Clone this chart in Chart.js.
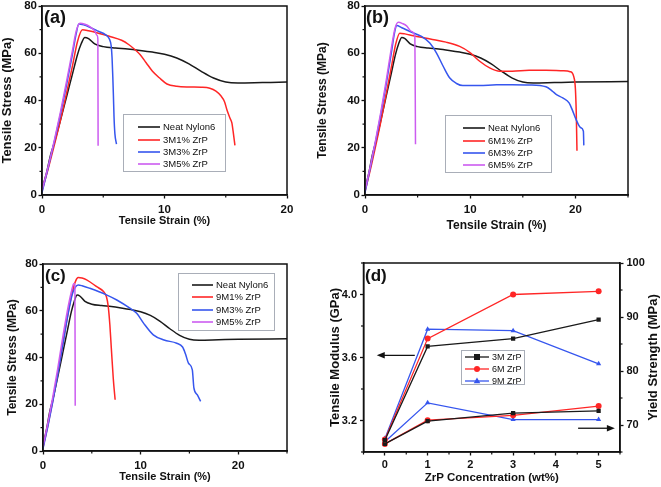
<!DOCTYPE html>
<html><head><meta charset="utf-8">
<script src="https://cdn.jsdelivr.net/npm/chart.js@4.4.1/dist/chart.umd.min.js"></script>
<style>
html,body{margin:0;padding:0;background:#fff;}
#wrap{position:relative;width:661px;height:487px;overflow:hidden;background:#fff;}
canvas{position:absolute;left:0;top:0;}
</style></head><body>
<div id="wrap">
<canvas id="ca" width="661" height="487" style="width:661px;height:487px"></canvas>
<canvas id="cb" width="661" height="487" style="width:661px;height:487px"></canvas>
<canvas id="cc" width="661" height="487" style="width:661px;height:487px"></canvas>
<canvas id="cd" width="661" height="487" style="width:661px;height:487px"></canvas>
</div>
<script>
// ---------------- DATA ----------------
// Neat Nylon6 (same curve in panels a, b, c)
const neatStrain = [0, 0.35, 0.7, 1.0, 1.5, 2.0, 2.5, 2.9, 3.2, 3.5, 3.8, 4.3, 5.0, 6.0, 7.0, 8.0, 9.0, 10.0, 11.0, 12.0, 13.0, 14.0, 15.0, 16.0, 18.0, 20.0, 25.0];
const neatStress = [2.5, 9, 17, 22, 31.5, 41.5, 51.5, 59.5, 64, 66.7, 66.2, 64, 62.8, 62.2, 61.8, 61.2, 60.5, 59.6, 58, 55.5, 52.3, 49.5, 47.8, 47.4, 47.6, 47.8, 48];

// (a) 3M series
const s3M1Strain = [0, 0.5, 1, 1.5, 2, 2.5, 2.9, 3.3, 3.8, 4.6, 5.5, 6.5, 7.1, 7.6, 8.0, 8.5, 9.0, 9.6, 10.2, 11.0, 12.0, 13.0, 13.7, 14.2, 14.6, 14.9, 15.1, 15.35, 15.5, 15.6, 15.75];
const s3M1Stress = [1.8, 11, 21, 31.5, 43, 55, 65, 69.9, 69.5, 68.5, 67.2, 65.5, 63.6, 61.5, 59.5, 56, 52.5, 49.5, 47, 46, 45.7, 45.6, 45.2, 44, 42, 39.5, 36, 32.5, 30.5, 27, 21];
const s3M3Strain = [0, 0.5, 1, 1.5, 2, 2.5, 2.8, 3.0, 3.4, 3.9, 4.6, 5.2, 5.5, 5.65, 5.72, 5.78, 5.83, 5.88, 5.95, 6.08];
const s3M3Stress = [1, 11.5, 22.5, 34, 46.5, 60, 68.5, 72.4, 72, 71, 69.3, 67.8, 66, 63, 58, 50, 42, 33, 26, 21.5];
const s3M5Strain = [0, 0.5, 1, 1.5, 2, 2.5, 2.8, 3.1, 3.5, 3.9, 4.3, 4.5, 4.56, 4.58];
const s3M5Stress = [2, 12, 23, 35, 48, 61.5, 69.5, 72.7, 72.3, 71.3, 69.5, 67.5, 66, 20.8];

// (b) 6M series
const s6M1Strain = [0, 0.5, 1, 1.5, 2, 2.5, 2.9, 3.3, 3.8, 4.6, 6.2, 7.7, 9.0, 9.95, 10.9, 11.85, 12.8, 14.0, 15.6, 17.2, 18.8, 19.5, 19.85, 20.0, 20.08, 20.12, 20.15];
const s6M1Stress = [1.5, 10.5, 20.5, 31, 42.5, 54, 63.5, 68.5, 68.2, 67.4, 66, 64.7, 62.9, 60.4, 56.6, 53.8, 52.4, 52.4, 52.8, 52.8, 52.6, 52.2, 50, 45, 35, 26, 18.7];
const s6M3Strain = [0, 0.5, 1, 1.5, 2, 2.5, 2.8, 3.0, 3.5, 4.27, 5.37, 6.16, 6.8, 7.43, 8.06, 8.7, 9.3, 10.9, 12.5, 14.0, 15.6, 17.2, 17.8, 18.2, 18.8, 19.4, 19.75, 20.06, 20.5, 20.76, 20.8];
const s6M3Stress = [1, 11.5, 22.5, 34, 46.5, 60, 68.5, 71.7, 70.8, 69.2, 67.1, 64.3, 60.1, 54.5, 49.5, 47.2, 46.3, 46.3, 46.7, 46.7, 46.6, 45.8, 44, 42.5, 41.1, 39, 35.5, 32, 28.5, 27, 21];
const s6M5Strain = [0, 0.5, 1, 1.5, 2, 2.5, 2.85, 3.16, 3.6, 3.95, 4.42, 4.74, 4.8];
const s6M5Stress = [2, 12, 23, 35, 48, 62, 70.5, 73.1, 72.5, 71.6, 69.2, 67, 21.5];

// (c) 9M series
const s9M1Strain = [0, 0.5, 1, 1.5, 2, 2.5, 3.0, 3.35, 3.6, 4.0, 4.47, 5.5, 6.2, 6.5, 6.68, 6.85, 7.0, 7.2, 7.39];
const s9M1Stress = [1.5, 11, 21.5, 33, 45, 57.5, 68, 72.8, 74.2, 74, 73.2, 70.3, 68.2, 66, 62, 54, 44, 31, 21.9];
const s9M3Strain = [0, 0.5, 1, 1.5, 2, 2.5, 3.0, 3.3, 3.6, 4.0, 4.8, 6.5, 7.56, 8.9, 9.6, 10.3, 11.3, 12.4, 13.7, 14.3, 14.6, 14.9, 15.3, 15.46, 15.8, 16.15];
const s9M3Stress = [1, 10.5, 21, 32.5, 44.5, 57, 67, 70, 71, 70.7, 69.6, 66.8, 64.6, 61.1, 58.9, 54.7, 49.7, 47.5, 46.1, 44.5, 41.5, 37.6, 34.7, 27, 24.1, 21.2];
const s9M5Strain = [0, 0.5, 1, 1.5, 2, 2.5, 2.9, 3.16, 3.27, 3.3];
const s9M5Stress = [2, 12, 23, 35, 48, 60, 68, 71.7, 71, 19.4];

// (d) modulus / yield strength vs ZrP concentration
const concentrations = [0, 1, 3, 5];
const modulus3M = [3.075, 3.67, 3.72, 3.84];
const modulus6M = [3.08, 3.72, 4.00, 4.02];
const modulus9M = [3.085, 3.78, 3.77, 3.56];
const yield3M = [66.5, 70.7, 72.2, 72.6];
const yield6M = [66.5, 70.9, 71.8, 73.5];
const yield9M = [66.9, 74.1, 71.0, 71.0];

// tick labels
const strainTicks = [0, 10, 20];
const stressTicks = [0, 20, 40, 60, 80];
const concTicks = [0, 1, 2, 3, 4, 5];
const modulusTicks = [3.2, 3.6, 4.0];
const yieldTicks = [70, 80, 90, 100];

// ---------------- STYLE ----------------
const FONT = "'Liberation Sans', Arial, Helvetica, sans-serif";
const INK = '#111';
const C_BLACK = '#1a1a1a', C_RED = '#ff2626', C_BLUE = '#3656ee', C_MAG = '#cc5cf0';

const pts = (xs, ys) => xs.map((x, i) => ({x: x, y: ys[i]}));

function drawMarker(ctx, style, x, y, r, color) {
  ctx.fillStyle = color; ctx.strokeStyle = color;
  ctx.beginPath();
  if (style === 'rect') { ctx.rect(x - r, y - r, 2 * r, 2 * r); }
  else if (style === 'triangle') { ctx.moveTo(x, y - r * 1.15); ctx.lineTo(x + r * 1.1, y + r * 0.75); ctx.lineTo(x - r * 1.1, y + r * 0.75); ctx.closePath(); }
  else { ctx.arc(x, y, r, 0, Math.PI * 2); }
  ctx.fill();
}

const decor = {
  id: 'decor',
  afterDraw(chart, args, o) {
    const ctx = chart.ctx, ca = chart.chartArea;
    ctx.save();
    // frame
    ctx.strokeStyle = INK; ctx.lineWidth = 1.5;
    ctx.strokeRect(ca.left, ca.top, ca.right - ca.left, ca.bottom - ca.top);
    // minor ticks
    ctx.lineWidth = 1.2;
    (o.minor || []).forEach(m => {
      const s = chart.scales[m.axis];
      m.values.forEach(v => {
        const p = s.getPixelForValue(v);
        ctx.beginPath();
        if (s.position === 'bottom') { ctx.moveTo(p, ca.bottom); ctx.lineTo(p, ca.bottom + m.len); }
        else if (s.position === 'left') { ctx.moveTo(ca.left, p); ctx.lineTo(ca.left - m.len, p); }
        else { ctx.moveTo(ca.right, p); ctx.lineTo(ca.right + m.len, p); }
        ctx.stroke();
      });
    });
    // panel label
    if (o.panel) {
      ctx.fillStyle = INK; ctx.font = 'bold ' + o.panel.size + 'px ' + FONT;
      ctx.textAlign = 'left'; ctx.textBaseline = 'alphabetic';
      ctx.fillText(o.panel.text, o.panel.x, o.panel.y);
    }
    // legend
    if (o.legend) {
      const L = o.legend;
      ctx.fillStyle = '#fff';
      ctx.fillRect(L.box[0], L.box[1], L.box[2], L.box[3]);
      ctx.strokeStyle = '#a9aeb8'; ctx.lineWidth = 1;
      ctx.strokeRect(L.box[0] + 0.5, L.box[1] + 0.5, L.box[2], L.box[3]);
      const items = chart.data.datasets.filter(d => d.inLegend !== false);
      items.forEach((d, i) => {
        const y = L.rows[i];
        ctx.strokeStyle = d.borderColor; ctx.lineWidth = L.lw || 1.6;
        ctx.beginPath(); ctx.moveTo(L.line[0], y); ctx.lineTo(L.line[1], y); ctx.stroke();
        if (L.markers) drawMarker(ctx, d.pointStyle, (L.line[0] + L.line[1]) / 2, y, d.pointRadius, d.borderColor);
        ctx.fillStyle = INK; ctx.font = L.size + 'px ' + FONT;
        ctx.textAlign = 'left'; ctx.textBaseline = 'middle';
        ctx.fillText(d.label, L.text, y + 0.5);
      });
    }
    // arrows
    (o.arrows || []).forEach(a => {
      const xs = chart.scales.x, ys = chart.scales[a.axis];
      const x1 = xs.getPixelForValue(a.from), x2 = xs.getPixelForValue(a.to), y = ys.getPixelForValue(a.y);
      const dir = Math.sign(x2 - x1);
      ctx.strokeStyle = INK; ctx.fillStyle = INK; ctx.lineWidth = 1.3;
      ctx.beginPath(); ctx.moveTo(x1, y); ctx.lineTo(x2 - dir * 6, y); ctx.stroke();
      ctx.beginPath(); ctx.moveTo(x2, y); ctx.lineTo(x2 - dir * 8, y - 3.2); ctx.lineTo(x2 - dir * 8, y + 3.2); ctx.closePath(); ctx.fill();
    });
    // right-side rotated title (reads bottom-to-top)
    if (o.rightTitle) {
      const t = o.rightTitle;
      ctx.fillStyle = INK; ctx.font = 'bold ' + t.size + 'px ' + FONT;
      ctx.textAlign = 'center'; ctx.textBaseline = 'middle';
      ctx.translate(t.x, (ca.top + ca.bottom) / 2);
      ctx.rotate(-Math.PI / 2);
      ctx.fillText(t.text, 0, 0);
    }
    ctx.restore();
  }
};

function fixedTicks(values) {
  return function (s) { s.ticks = values.map(v => ({value: v})); };
}

function xAxis(o) {
  return {
    type: 'linear', position: 'bottom', min: o.min, max: o.max,
    afterBuildTicks: fixedTicks(o.ticks),
    afterFit(s) { s.height = o.h; s.paddingLeft = 0; s.paddingRight = 0; },
    ticks: {autoSkip: false, maxRotation: 0, padding: o.tpad, color: INK, font: {family: FONT, size: o.tsize, weight: 'bold'}, callback: o.cb || (v => String(v))},
    grid: {display: true, drawOnChartArea: false, drawTicks: true, tickLength: 3.5, tickWidth: 1.3, tickColor: INK},
    border: {display: true, color: INK, width: 1.5},
    title: {display: true, text: o.title, color: INK, font: {family: FONT, size: o.titleSize, weight: 'bold'}, padding: {top: 0, bottom: o.titlePad}}
  };
}
function yAxis(o) {
  return {
    type: 'linear', position: o.position || 'left', min: o.min, max: o.max,
    afterBuildTicks: fixedTicks(o.ticks),
    afterFit(s) { s.width = o.w; s.paddingTop = 0; s.paddingBottom = 0; },
    ticks: {autoSkip: false, padding: o.tpad, color: INK, font: {family: FONT, size: o.tsize, weight: 'bold'}, callback: o.cb || (v => String(v))},
    grid: {display: true, drawOnChartArea: false, drawTicks: true, tickLength: 3.5, tickWidth: 1.3, tickColor: INK},
    border: {display: true, color: INK, width: 1.5},
    title: {display: !!o.title, text: o.title || '', color: INK, font: {family: FONT, size: o.titleSize || 12, weight: 'bold'}, padding: {top: 0, bottom: 0}}
  };
}

function line(label, xs, ys, color, order) {
  return {label: label, data: pts(xs, ys), borderColor: color, backgroundColor: color, borderWidth: 1.5,
          pointRadius: 0, fill: false, cubicInterpolationMode: 'monotone', order: order};
}

function stressChart(id, p) {
  return new Chart(document.getElementById(id), {
    type: 'line',
    data: {datasets: p.datasets},
    options: {
      responsive: false, animation: false, events: [], parsing: true,
      layout: {padding: p.pad},
      plugins: {legend: {display: false}, tooltip: {enabled: false}, decor: p.decor},
      scales: {
        x: xAxis({min: 0, max: p.xmax, ticks: strainTicks, h: p.xh, tpad: 4, tsize: 11.5, title: 'Tensile Strain (%)', titleSize: p.xTitleSize, titlePad: p.xTitlePad}),
        y: yAxis({min: 0, max: 80, ticks: stressTicks, w: p.yw, tpad: 1.5, tsize: 11.5, title: 'Tensile Stress (MPa)', titleSize: p.yTitleSize})
      }
    },
    plugins: [decor]
  });
}

const minorStrain20 = [5, 15], minorStrain25 = [5, 15, 25], minorStress = [10, 30, 50, 70];

// (a)
stressChart('ca', {
  xmax: 20, pad: {left: 0, top: 6, right: 374, bottom: 252}, xh: 40, yw: 42,
  xTitleSize: 11, xTitlePad: 7, yTitleSize: 13,
  datasets: [
    line('Neat Nylon6', neatStrain, neatStress, C_BLACK, 4),
    line('3M1% ZrP', s3M1Strain, s3M1Stress, C_RED, 3),
    line('3M3% ZrP', s3M3Strain, s3M3Stress, C_BLUE, 2),
    line('3M5% ZrP', s3M5Strain, s3M5Stress, C_MAG, 1)
  ],
  decor: {
    minor: [{axis: 'x', values: minorStrain20, len: 2.5}, {axis: 'y', values: minorStress, len: 2.5}],
    panel: {text: '(a)', x: 44, y: 23, size: 18},
    legend: {box: [123, 114, 102, 57], rows: [127, 140, 152, 164], line: [138, 160], text: 163, size: 9.5}
  }
});

// (b)
stressChart('cb', {
  xmax: 25, pad: {left: 315, top: 6, right: 33, bottom: 252}, xh: 40, yw: 50,
  xTitleSize: 12, xTitlePad: 2, yTitleSize: 12,
  datasets: [
    line('Neat Nylon6', neatStrain, neatStress, C_BLACK, 4),
    line('6M1% ZrP', s6M1Strain, s6M1Stress, C_RED, 3),
    line('6M3% ZrP', s6M3Strain, s6M3Stress, C_BLUE, 2),
    line('6M5% ZrP', s6M5Strain, s6M5Stress, C_MAG, 1)
  ],
  decor: {
    minor: [{axis: 'x', values: minorStrain25, len: 2.5}, {axis: 'y', values: minorStress, len: 2.5}],
    panel: {text: '(b)', x: 366, y: 23, size: 18},
    legend: {box: [445, 115, 106, 57], rows: [128, 141, 153, 165], line: [463, 485], text: 488, size: 9.5}
  }
});

// (c)
stressChart('cc', {
  xmax: 25, pad: {left: 5, top: 264, right: 374, bottom: 2}, xh: 34, yw: 38,
  xTitleSize: 11, xTitlePad: 1.4, yTitleSize: 12,
  datasets: [
    line('Neat Nylon6', neatStrain, neatStress, C_BLACK, 4),
    line('9M1% ZrP', s9M1Strain, s9M1Stress, C_RED, 3),
    line('9M3% ZrP', s9M3Strain, s9M3Stress, C_BLUE, 2),
    line('9M5% ZrP', s9M5Strain, s9M5Stress, C_MAG, 1)
  ],
  decor: {
    minor: [{axis: 'x', values: minorStrain25, len: 2.5}, {axis: 'y', values: minorStress, len: 2.5}],
    panel: {text: '(c)', x: 45, y: 281, size: 17},
    legend: {box: [178, 273, 96, 57], rows: [285, 297, 310, 322], line: [192, 213], text: 216, size: 9.5}
  }
});

// (d)
function mline(label, ys, color, style, axis, inLegend) {
  return {label: label, data: pts(concentrations, ys), yAxisID: axis, borderColor: color, backgroundColor: color,
          borderWidth: 1.3, pointStyle: style, pointRadius: style === 'rect' ? 3 : 3, pointBorderWidth: 0,
          pointBackgroundColor: color, fill: false, tension: 0, inLegend: inLegend};
}
new Chart(document.getElementById('cd'), {
  type: 'line',
  data: {datasets: [
    mline('3M ZrP', modulus3M, C_BLACK, 'rect', 'y', true),
    mline('6M ZrP', modulus6M, C_RED, 'circle', 'y', true),
    mline('9M ZrP', modulus9M, C_BLUE, 'triangle', 'y', true),
    mline('3M ZrP', yield3M, C_BLACK, 'rect', 'y2', false),
    mline('6M ZrP', yield6M, C_RED, 'circle', 'y2', false),
    mline('9M ZrP', yield9M, C_BLUE, 'triangle', 'y2', false)
  ]},
  options: {
    responsive: false, animation: false, events: [],
    layout: {padding: {left: 328, top: 263, right: 0, bottom: 0}},
    plugins: {legend: {display: false}, tooltip: {enabled: false},
      decor: {
        minor: [{axis: 'x', values: [-0.5, 0.5, 1.5, 2.5, 3.5, 4.5, 5.5], len: 2.5},
                {axis: 'y', values: [3.0, 3.4, 3.8, 4.2], len: 2.5},
                {axis: 'y2', values: [65, 75, 85, 95], len: 2.5}],
        panel: {text: '(d)', x: 365, y: 281, size: 17},
        legend: {box: [461, 350, 63, 34], rows: [357, 369, 381], line: [465, 489], text: 492, size: 9, markers: true, lw: 1.3},
        arrows: [{axis: 'y', from: 0.7, to: -0.19, y: 3.614}, {axis: 'y2', from: 4.52, to: 5.38, y: 69.4}],
        rightTitle: {text: 'Yield Strength (MPa)', x: 653, size: 13}
      }
    },
    scales: {
      x: xAxis({min: -0.5, max: 5.5, ticks: concTicks, h: 35, tpad: 3, tsize: 11, title: 'ZrP Concentration (wt%)', titleSize: 11.5, titlePad: 2}),
      y: yAxis({min: 3.0, max: 4.2, ticks: modulusTicks, w: 35.5, tpad: 3, tsize: 11, title: 'Tensile Modulus (GPa)', titleSize: 13, cb: v => v.toFixed(1)}),
      y2: yAxis({position: 'right', min: 65, max: 100, ticks: yieldTicks, w: 41, tpad: 3, tsize: 11})
    }
  },
  plugins: [decor]
});
</script>
</body></html>
